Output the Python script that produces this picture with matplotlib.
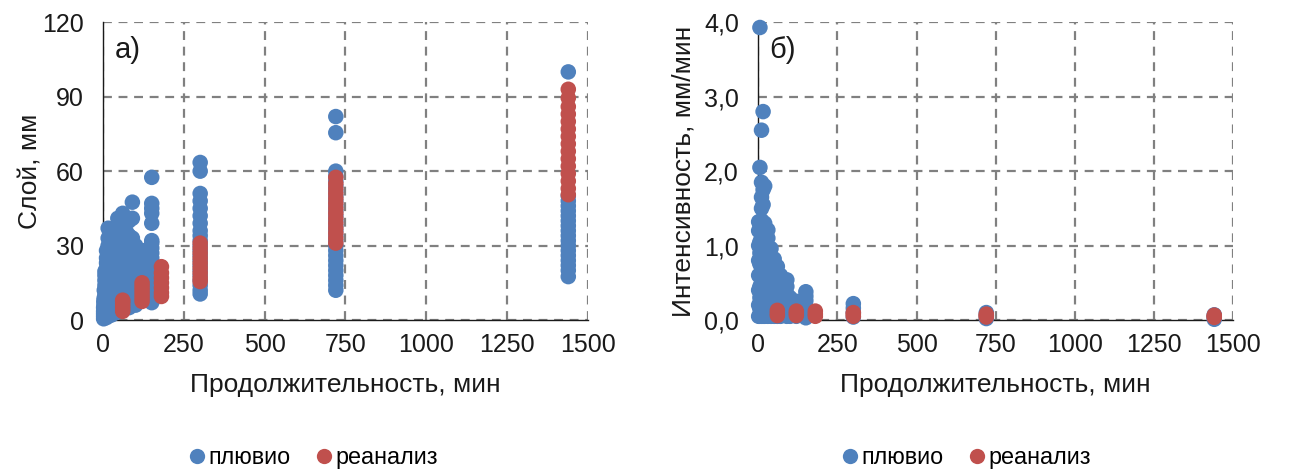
import matplotlib
matplotlib.use("Agg")
import matplotlib.pyplot as plt
from matplotlib.lines import Line2D

plt.rcParams['font.family'] = ['Liberation Sans', 'DejaVu Sans']

BLUE = '#4F81BD'
RED = '#C0504D'

# ---------------- Panel a): layer (mm) vs duration (min) ----------------
# pluvio: duration -> list of layer values
pluvio_layer = {
    1: [0.5, 1.5, 2.5, 3.5, 5],
    2: [1, 2.5, 4, 5.5, 7, 8],
    3: [1, 3, 5, 7, 9, 12],
    5: [1, 2.5, 4, 5.5, 7, 8.5, 10, 12, 14, 16, 18, 19.6],
    10: [1, 3, 5, 7, 9, 11, 13, 15, 17, 19, 21, 23, 25, 28],
    15: [2, 4, 6, 8, 10, 12, 14, 16, 18, 20, 22, 24, 26, 28, 30, 33, 37],
    20: [2, 4, 6, 8, 10, 12, 14, 16, 18, 20, 22, 24, 26, 28, 30],
    25: [2, 4, 6, 8, 10, 12, 14, 16, 18, 20, 22, 24, 26, 28, 31],
    30: [3, 5, 7, 9, 11, 13, 15, 17, 19, 21, 23, 25, 27, 29, 31, 33, 35],
    40: [3, 5, 7, 9, 11, 13, 15, 17, 19, 21, 23, 25, 27, 29, 31, 33],
    45: [38, 41],
    50: [4, 6, 8, 10, 12, 14, 16, 18, 20, 22, 24, 26, 28, 30, 32, 34],
    60: [4, 6, 8, 10, 12, 14, 16, 18, 20, 22, 24, 26, 28, 30, 32, 35, 40, 43],
    70: [5, 7, 9, 11, 13, 15, 17, 19, 21, 23, 25, 27, 29, 31, 33, 36],
    80: [5, 7, 9, 11, 13, 15, 17, 19, 21, 23, 25, 27, 29, 31, 34, 40],
    90: [6, 8, 10, 12, 14, 16, 18, 20, 22, 24, 26, 28, 30, 33, 41, 47.5],
    100: [6, 8, 10, 12, 14, 16, 18, 20, 22, 24, 26, 28, 30],
    120: [8, 10, 12, 14, 16, 18, 20, 22, 24, 26, 28],
    150: [7, 9, 11, 13, 15, 17, 19, 21, 23, 25, 27, 29, 31, 32, 39, 43, 45, 47, 57.5],
    300: [10.5, 12, 14, 16, 18, 20, 22, 24, 26, 28, 30, 32, 34, 36, 39, 42, 45, 48, 51, 60, 63.5],
    720: [12, 14, 16, 18, 20, 22, 24, 26, 28, 30, 32, 34, 36, 38, 40, 42, 44, 46, 48, 50,
          52, 54, 56, 58, 60, 75.5, 82],
    1440: [17.5, 20, 22, 24, 26, 28, 30, 32, 34, 36, 38, 40, 42, 44, 46, 48, 50, 100],
}
# reanalysis: duration -> list of layer values
reanal_layer = {
    60: [3.5, 4.5, 5.5, 6.5, 7.5, 8],
    120: [7.5, 9, 10.5, 12, 13.5, 15],
    180: [9.5, 11, 13, 15, 17, 19, 21.5],
    300: [15.5, 17, 19, 21, 23, 25, 27, 29, 31],
    720: [31, 33, 35, 37, 39, 41, 43, 45, 47, 49, 51, 53, 55, 57.5],
    1440: [50.5, 53, 56, 59, 62, 65, 68, 71, 74, 77, 80, 83, 86, 89.5, 93],
}

# ---------------- Panel б): intensity (mm/min) vs duration (min) ----------------
pluvio_int = {
    1: [0.05, 0.2, 0.4, 0.6, 0.8, 1.0, 1.2, 1.32],
    5: [0.05, 0.15, 0.3, 0.45, 0.6, 0.75, 0.9, 1.05, 1.2, 1.3, 2.05, 3.93],
    10: [0.05, 0.2, 0.35, 0.5, 0.65, 0.8, 0.95, 1.1, 1.25, 1.34, 1.5, 1.65, 1.85, 2.55],
    15: [0.05, 0.2, 0.35, 0.5, 0.65, 0.8, 0.95, 1.1, 1.25, 1.55, 1.75, 2.8],
    20: [0.05, 0.2, 0.35, 0.5, 0.65, 0.8, 0.95, 1.1, 1.25, 1.3, 1.8],
    30: [0.05, 0.2, 0.35, 0.5, 0.65, 0.8, 0.95, 1.1, 1.21],
    40: [0.05, 0.2, 0.35, 0.5, 0.65, 0.8, 0.96],
    50: [0.05, 0.2, 0.35, 0.5, 0.65, 0.82],
    60: [0.05, 0.2, 0.35, 0.5, 0.6, 0.72],
    70: [0.05, 0.2, 0.35, 0.5, 0.6],
    90: [0.05, 0.2, 0.35, 0.45, 0.54],
    100: [0.05, 0.15, 0.3],
    120: [0.05, 0.15, 0.25],
    150: [0.03, 0.1, 0.18, 0.26, 0.32, 0.38],
    300: [0.04, 0.1, 0.16, 0.22],
    720: [0.02, 0.06, 0.1],
    1440: [0.01, 0.04, 0.07],
}
reanal_int = {
    60: [0.06, 0.09, 0.13],
    120: [0.06, 0.09, 0.12],
    180: [0.05, 0.08, 0.12],
    300: [0.05, 0.08, 0.10],
    720: [0.04, 0.06, 0.08],
    1440: [0.035, 0.05, 0.065],
}

x_ticks = [0, 250, 500, 750, 1000, 1250, 1500]
y_ticks_a = [0, 30, 60, 90, 120]
y_ticks_b = [0.0, 1.0, 2.0, 3.0, 4.0]
y_labels_b = ['0,0', '1,0', '2,0', '3,0', '4,0']
series_names = ['плювио', 'реанализ']


def flatten(d):
    xs, ys = [], []
    for k, vals in d.items():
        for v in vals:
            xs.append(k)
            ys.append(v)
    return xs, ys


fig = plt.figure(figsize=(12.93, 4.70), dpi=100)
ax_a = fig.add_axes([0.0799, 0.3191, 0.3746, 0.6335])
ax_b = fig.add_axes([0.5865, 0.3191, 0.3673, 0.6335])

MS = 125
TXT = '#1a1a1a'


def style(ax, yticks, ylabels, ylim, ylabel, tag, ylabelpad):
    ax.set_xlim(0, 1500)
    ax.set_ylim(*ylim)
    ax.set_xticks(x_ticks)
    ax.set_xticklabels([str(t) for t in x_ticks])
    ax.set_yticks(yticks)
    ax.set_yticklabels(ylabels)
    ax.tick_params(axis='x', length=0, labelsize=18, pad=9, colors=TXT)
    ax.tick_params(axis='y', length=0, labelsize=18, pad=14, colors=TXT)
    ax.grid(True, color='#808080', linestyle=(0, (4, 3)), linewidth=1.6)
    ax.set_axisbelow(True)
    for s in ['top', 'right']:
        ax.spines[s].set_visible(False)
    for s in ['left', 'bottom']:
        ax.spines[s].set_color(TXT)
        ax.spines[s].set_linewidth(1.0)
    ax.set_xlabel('Продолжительность, мин', fontsize=19, labelpad=12, color=TXT)
    ax.set_ylabel(ylabel, fontsize=19, labelpad=ylabelpad, color=TXT)
    ax.text(0.024, 0.955, tag, transform=ax.transAxes, fontsize=21, va='top', ha='left',
            color=TXT)


x, y = flatten(pluvio_layer)
ax_a.scatter(x, y, s=MS, color=BLUE, edgecolors='none', clip_on=False, zorder=3)
x, y = flatten(reanal_layer)
ax_a.scatter(x, y, s=MS, color=RED, edgecolors='none', clip_on=False, zorder=4)
style(ax_a, y_ticks_a, [str(t) for t in y_ticks_a], (0, 120), 'Слой, мм', 'а)', 0)

x, y = flatten(pluvio_int)
ax_b.scatter(x, y, s=MS, color=BLUE, edgecolors='none', clip_on=False, zorder=3)
x, y = flatten(reanal_int)
ax_b.scatter(x, y, s=MS, color=RED, edgecolors='none', clip_on=False, zorder=4)
style(ax_b, y_ticks_b, y_labels_b, (0, 4.0), 'Интенсивность, мм/мин', 'б)', 6)

handles = [Line2D([], [], marker='o', linestyle='none', markersize=11, color=BLUE, markeredgewidth=0),
           Line2D([], [], marker='o', linestyle='none', markersize=11, color=RED, markeredgewidth=0)]
for cx in [0.241, 0.746]:
    fig.legend(handles, series_names, loc='center', bbox_to_anchor=(cx, 0.027), ncol=2,
               frameon=False, fontsize=16.8, handletextpad=0.0, columnspacing=0.9,
               handlelength=1.0)

fig.savefig('out.png', dpi=100)
